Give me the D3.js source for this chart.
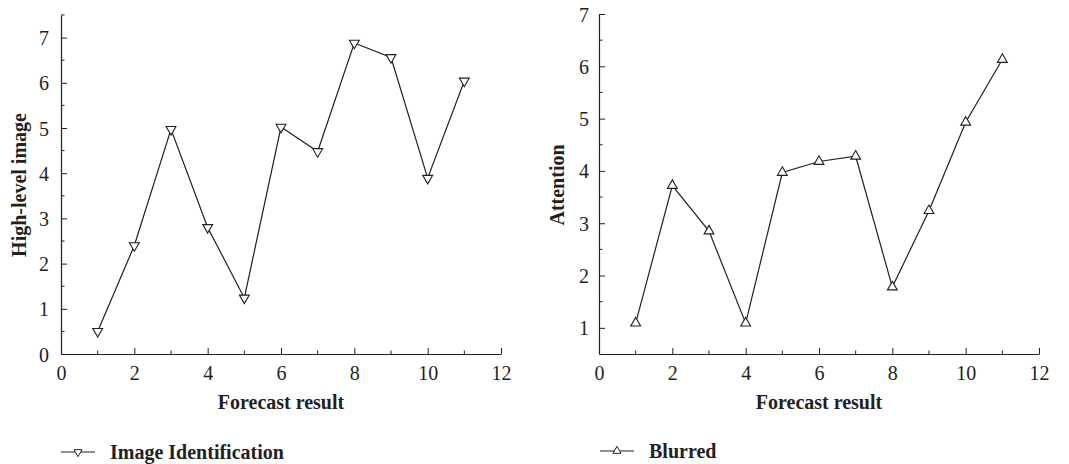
<!DOCTYPE html>
<html>
<head>
<meta charset="utf-8">
<script src="https://cdn.jsdelivr.net/npm/d3@7"></script>
<style>
  body { margin: 0; background: #fff; }
  svg text { font-family: "Liberation Serif", "DejaVu Serif", serif; fill: #231f20; }
</style>
</head>
<body>
<svg id="chart" width="1069" height="464"></svg>
<script>
// data
const forecast = [1, 2, 3, 4, 5, 6, 7, 8, 9, 10, 11];
const imageIdentification = [0.50, 2.40, 4.97, 2.80, 1.24, 5.02, 4.48, 6.88, 6.56, 3.89, 6.04];
const blurred = [1.09, 3.72, 2.85, 1.09, 3.97, 4.18, 4.28, 1.78, 3.24, 4.93, 6.13];
const xTicks = [0, 2, 4, 6, 8, 10, 12];
const leftYTicks = [0, 1, 2, 3, 4, 5, 6, 7];
const rightYTicks = [1, 2, 3, 4, 5, 6, 7];

const svg = d3.select("#chart");
const ink = "#231f20";

function panel(opts) {
  const g = svg.append("g");
  const x = d3.scaleLinear().domain([0, 12]).range([opts.left, opts.right]);
  const y = d3.scaleLinear().domain(opts.yDomain).range([opts.bottom, opts.top]);

  // x axis, ticks pointing in
  const xa = g.append("g").attr("transform", "translate(0," + opts.bottom + ")")
    .call(d3.axisBottom(x).tickValues(xTicks).tickFormat(d3.format("d"))
      .tickSizeInner(-6).tickSizeOuter(0).tickPadding(12));
  xa.append("g").selectAll("line").data(d3.range(1, 12, 2)).join("line")
    .attr("x1", d => x(d)).attr("x2", d => x(d)).attr("y1", 0).attr("y2", -3.5)
    .attr("stroke", ink);

  // y axis, ticks pointing in
  const ya = g.append("g").attr("transform", "translate(" + opts.left + ",0)")
    .call(d3.axisLeft(y).tickValues(opts.yTicks).tickFormat(d3.format("d"))
      .tickSizeInner(-6).tickSizeOuter(0).tickPadding(opts.yPad));
  const minor = d3.range(opts.yDomain[0], opts.yDomain[1] + 0.01, 0.5)
    .filter(v => !opts.yTicks.includes(v) && v > opts.yDomain[0]);
  ya.append("g").selectAll("line").data(minor).join("line")
    .attr("y1", d => y(d)).attr("y2", d => y(d)).attr("x1", 0).attr("x2", 3.5)
    .attr("stroke", ink);

  [xa, ya].forEach(a => {
    a.attr("font-size", null).attr("font-family", null);
    a.select(".domain").attr("stroke", ink).attr("stroke-width", 1.2);
    a.selectAll(".tick line").attr("stroke", ink);
    a.selectAll(".tick text").style("font-size", "20px").attr("fill", ink);
  });
  ya.selectAll(".tick text").attr("dy", "0.35em");
  xa.selectAll(".tick text").attr("dy", "0.71em");

  // titles
  g.append("text")
    .attr("x", (opts.left + opts.right) / 2).attr("y", opts.bottom + 55)
    .attr("text-anchor", "middle").style("font-size", "20px").style("font-weight", "bold")
    .text("Forecast result");
  g.append("text")
    .attr("transform", "translate(" + opts.titleX + "," + opts.titleY + ") rotate(-90)")
    .attr("text-anchor", "middle").style("font-size", "20px").style("font-weight", "bold")
    .text(opts.yTitle);

  // series
  const line = d3.line().x((d, i) => x(forecast[i])).y(d => y(d));
  g.append("path").datum(opts.values)
    .attr("fill", "none").attr("stroke", ink).attr("stroke-width", 1.2).attr("d", line);

  const tri = d3.symbol().type(d3.symbolTriangle).size(42);
  g.selectAll(".mk").data(opts.values).join("path")
    .attr("class", "mk")
    .attr("d", tri)
    .attr("transform", (d, i) => "translate(" + x(forecast[i]) + "," + y(d) + ")" + (opts.down ? " rotate(180)" : ""))
    .attr("fill", "#fff").attr("stroke", ink).attr("stroke-width", 1.1);

  // legend
  const lg = g.append("g").attr("transform", "translate(" + opts.legX + "," + opts.legY + ")");
  lg.append("line").attr("x1", 0).attr("x2", 34).attr("y1", 0).attr("y2", 0)
    .attr("stroke", ink).attr("stroke-width", 1.1);
  lg.append("path").attr("d", d3.symbol().type(d3.symbolTriangle).size(28))
    .attr("transform", "translate(17,0)" + (opts.down ? " rotate(180)" : ""))
    .attr("fill", "#fff").attr("stroke", ink).attr("stroke-width", 1);
  lg.append("text").attr("x", 49).attr("y", 7)
    .style("font-size", "20px").style("font-weight", "bold").text(opts.legend);
}

panel({
  left: 61, right: 501, top: 15, bottom: 354,
  yDomain: [0, 7.5], yTicks: leftYTicks, yPad: 12,
  yTitle: "High-level image", titleX: 26, titleY: 185,
  values: imageIdentification, down: true,
  legend: "Image Identification", legX: 61, legY: 452
});

panel({
  left: 599, right: 1039, top: 14, bottom: 354,
  yDomain: [0.5, 7], yTicks: rightYTicks, yPad: 10,
  yTitle: "Attention", titleX: 564, titleY: 185,
  values: blurred, down: false,
  legend: "Blurred", legX: 600, legY: 451
});
</script>
</body>
</html>
